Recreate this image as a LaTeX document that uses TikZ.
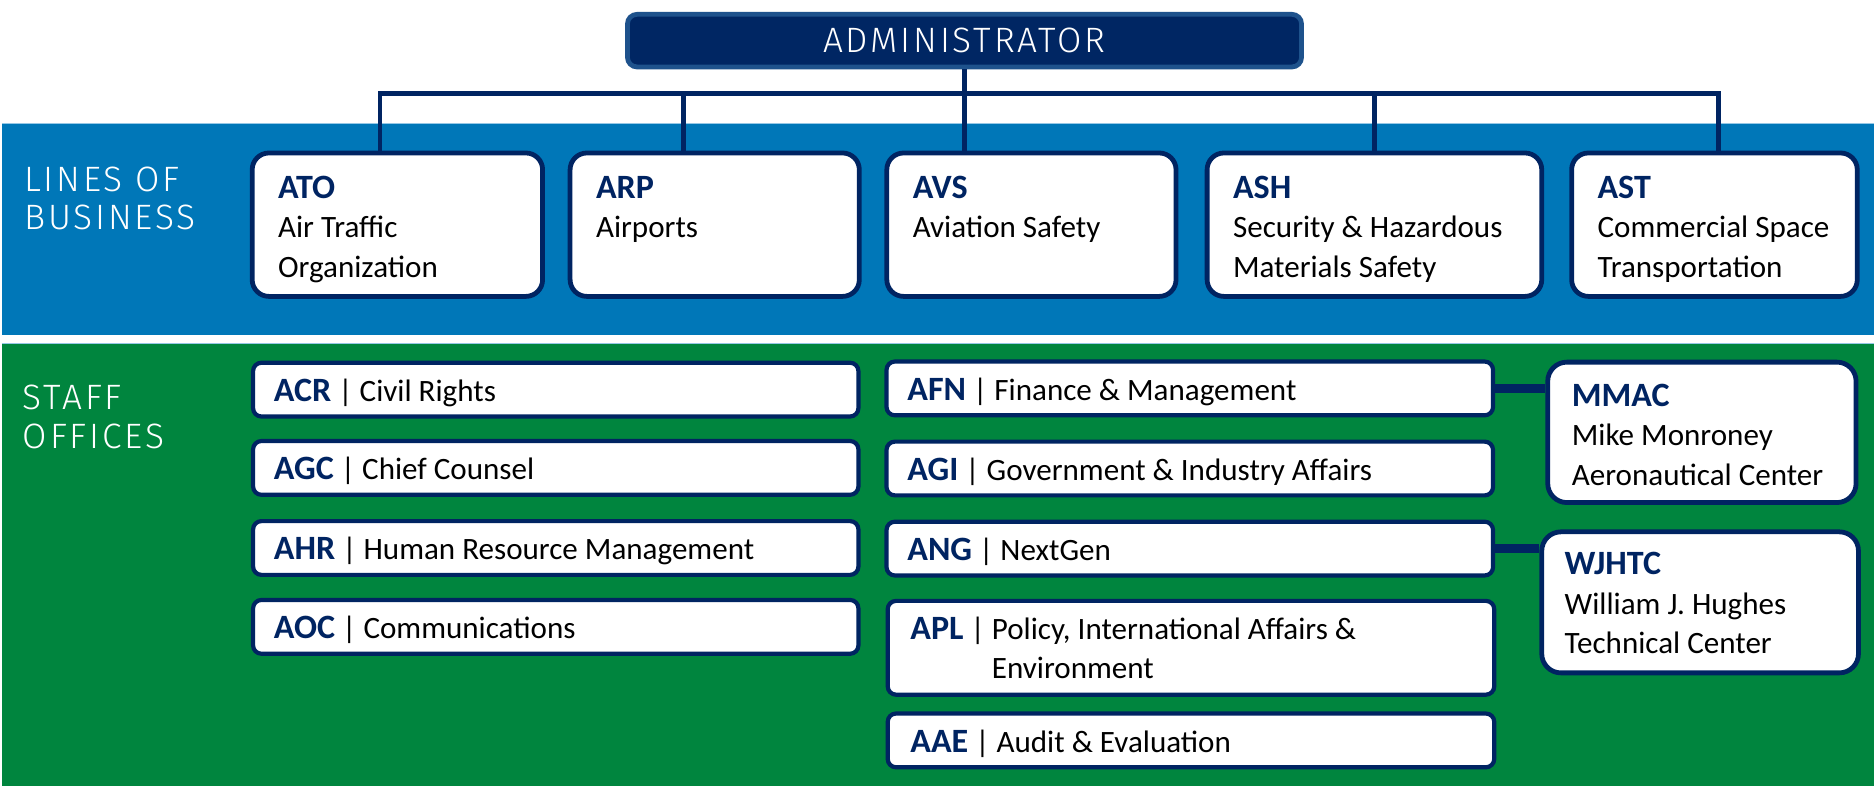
\documentclass[tikz,border=0pt]{standalone}
\usepackage{fontspec}
\setmainfont{Carlito}
\newfontfamily\headfont{Fira Sans Light}[LetterSpace=8]
\definecolor{faanavy}{RGB}{0,36,98}
\definecolor{faablue}{RGB}{0,119,184}
\definecolor{faagreen}{RGB}{0,133,62}
\definecolor{adminfill}{RGB}{0,38,99}
\definecolor{adminborder}{RGB}{30,82,140}
\definecolor{bandline}{RGB}{150,200,230}
\newcommand\orgcode[1]{{\fontsize{28.5}{33}\selectfont\bfseries\color{faanavy}#1}}
\newcommand\lstack[1]{\begin{tabular}[t]{@{}l@{}}#1\end{tabular}}
\begin{document}
\begin{tikzpicture}[x=1pt,y=-1pt,
  lob/.style={draw=faanavy, line width=4pt, fill=white, rounded corners=14pt, minimum height=120pt, inner sep=0pt},
  staff/.style={draw=faanavy, line width=3.5pt, fill=white, rounded corners=7pt, minimum height=45pt, inner sep=0pt},
  hub/.style={draw=faanavy, line width=4pt, fill=white, rounded corners=16pt, inner sep=0pt},
  adminbox/.style={draw=adminborder, fill=adminfill, line width=4pt, rounded corners=8pt, inner sep=0pt, text=white, font=\headfont\fontsize{29.5}{34}\selectfont},
  txt/.style={anchor=base west, inner sep=0pt, font=\fontsize{26}{33}\selectfont, text=black},
  head/.style={anchor=base west, inner sep=0pt, font=\headfont\fontsize{29.5}{34}\selectfont, text=white},
  bus/.style={draw=faanavy, line width=4pt},
  link/.style={draw=faanavy, line width=7pt}]
\useasboundingbox (0,0) rectangle (1568,658);
\fill[white] (0,0) rectangle (1568,658);
% bands
\fill[faablue] (2,103) rectangle (1568,280);
\draw[bandline, line width=1pt] (2,103.5) -- (1568,103.5);
\fill[faagreen] (2,287) rectangle (1568,658);
\draw[bandline, line width=1pt] (2,287.5) -- (1568,287.5);
% band headings
\node[head] (lobhead1) at (20,160) {LINES OF};
\node[head] (lobhead2) at (20,192) {BUSINESS};
\node[head] (staffhead1) at (19,343) {STAFF};
\node[head] (staffhead2) at (19,375) {OFFICES};
% administrator
\node[adminbox, minimum width=564pt, minimum height=44pt] (admin) at (807,34) {ADMINISTRATOR};
% lines of business
\node[lob, minimum width=243pt] (ato) at (332.5,188) {};
\node[lob, minimum width=242pt] (arp) at (598,188) {};
\node[lob, minimum width=242pt] (avs) at (863,188) {};
\node[lob, minimum width=280pt] (ash) at (1150,188) {};
\node[lob, minimum width=239pt] (ast) at (1434.5,188) {};
\node[txt] (ato-t) at (232.5,166) {\lstack{\orgcode{ATO}\\Air Traffic\\Organization}};
\node[txt] (arp-t) at (498.5,166) {\lstack{\orgcode{ARP}\\Airports}};
\node[txt] (avs-t) at (763.5,166) {\lstack{\orgcode{AVS}\\Aviation Safety}};
\node[txt] (ash-t) at (1031.5,166) {\lstack{\orgcode{ASH}\\Security \& Hazardous\\Materials Safety}};
\node[txt] (ast-t) at (1336.5,166) {\lstack{\orgcode{AST}\\Commercial Space\\Transportation}};
% bus
\coordinate (busL) at (318,78);
\coordinate (busR) at (1438,78);
\coordinate (busARP) at (572,78);
\draw[bus] (ato.north -| busL) |- (busR) -- (ast.north -| busR);
\draw[bus] (admin.south) -- (avs.north -| admin.south);
\draw[bus] (busARP) -- (arp.north -| busARP);
\draw[bus] (ash.north |- busL) -- (ash.north);
% staff offices left
\node[staff, minimum width=506.5pt] (acr) at (465,326) {};
\node[staff, minimum width=506.5pt] (agc) at (465,391.5) {};
\node[staff, minimum width=506.5pt] (ahr) at (465,458.5) {};
\node[staff, minimum width=506.5pt] (aoc) at (465,524.5) {};
\node[txt] (acr-t) at (229,336) {\orgcode{ACR} | Civil Rights};
\node[txt] (agc-t) at (229,401.5) {\orgcode{AGC} | Chief Counsel};
\node[txt] (ahr-t) at (229,468.5) {\orgcode{AHR} | Human Resource Management};
\node[txt] (aoc-t) at (229,534.5) {\orgcode{AOC} | Communications};
% staff offices right
\node[staff, minimum width=507.5pt] (afn) at (995.5,325) {};
\node[staff, minimum width=507.5pt] (agi) at (995.5,392) {};
\node[staff, minimum width=507.5pt] (ang) at (995.5,459) {};
\node[staff, minimum width=507.5pt, minimum height=78.5pt] (apl) at (996.5,542) {};
\node[staff, minimum width=507.5pt] (aae) at (996.5,619.5) {};
\node[txt] (afn-t) at (759,335) {\orgcode{AFN} | Finance \& Management};
\node[txt] (agi-t) at (759,402) {\orgcode{AGI} | Government \& Industry Affairs};
\node[txt] (ang-t) at (759,469) {\orgcode{ANG} | NextGen};
\node[txt] (apl-t) at (761.5,535) {\orgcode{APL} | \lstack{Policy, International Affairs \&\\Environment}};
\node[txt] (aae-t) at (761.5,629.5) {\orgcode{AAE} | Audit \& Evaluation};
% centers
\node[hub, minimum width=258pt, minimum height=117.5pt] (mmac) at (1424,361.75) {};
\node[hub, minimum width=265pt, minimum height=118pt] (wjhtc) at (1422.5,504) {};
\node[txt] (mmac-t) at (1315,340) {\lstack{\orgcode{MMAC}\\Mike Monroney\\Aeronautical Center}};
\node[txt] (wjhtc-t) at (1309,481) {\lstack{\orgcode{WJHTC}\\William J. Hughes\\Technical Center}};
% links
\draw[link] (afn.east) -- (mmac.west |- afn.east);
\draw[link] (ang.east) -- (wjhtc.west |- ang.east);
\end{tikzpicture}
\end{document}
